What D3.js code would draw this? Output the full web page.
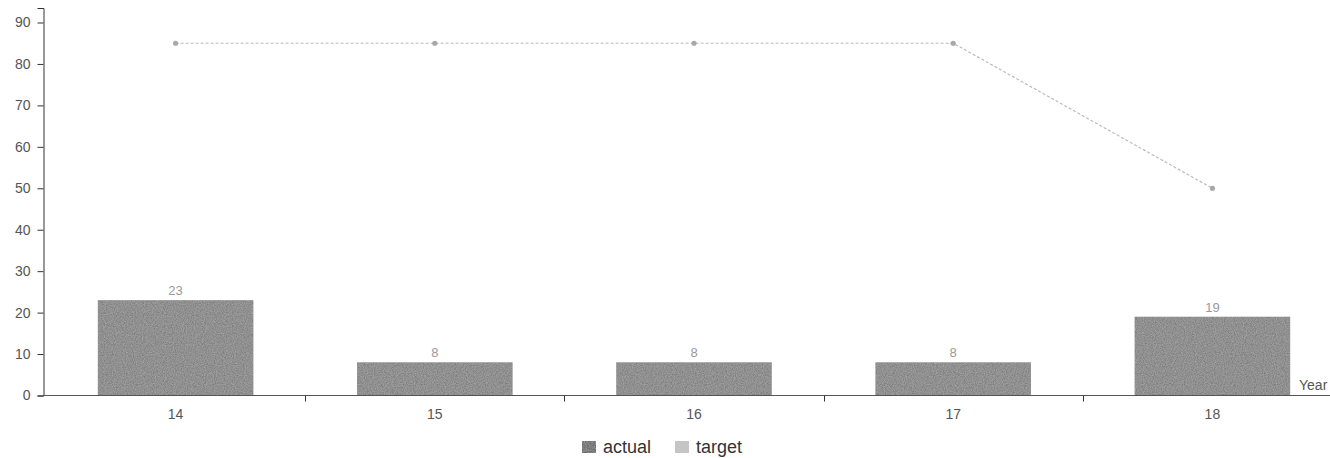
<!DOCTYPE html>
<html><head><meta charset="utf-8">
<script src="https://cdn.jsdelivr.net/npm/d3@7"></script>
<style>body{margin:0;background:#fff;overflow:hidden}svg{display:block}text{font-family:"Liberation Sans",Arial,sans-serif}</style>
</head><body>
<svg id="c" width="1330" height="458"></svg>
<script>
const categories = ["14","15","16","17","18"];
const actual = [23, 8, 8, 8, 19];
const target = [85, 85, 85, 85, 50];
const yTicks = [0,10,20,30,40,50,60,70,80,90];
const seriesNames = ["actual","target"];

const svg = d3.select("#c");
const defs = svg.append("defs");
const f = defs.append("filter").attr("id","grain").attr("x",0).attr("y",0).attr("width",1).attr("height",1);
f.append("feTurbulence").attr("type","fractalNoise").attr("baseFrequency",0.9).attr("numOctaves",2).attr("seed",3).attr("result","n");
f.append("feColorMatrix").attr("in","n").attr("type","matrix")
 .attr("values","0 0 0 0 0.62  0 0 0 0 0.62  0 0 0 0 0.62  0.6 0 0 0 -0.1").attr("result","g");
f.append("feComposite").attr("in","g").attr("in2","SourceGraphic").attr("operator","in").attr("result","gc");
f.append("feMerge").call(m=>{m.append("feMergeNode").attr("in","SourceGraphic");m.append("feMergeNode").attr("in","gc");});

const x = d3.scaleBand().domain(categories).range([46,1342]).padding(0);
const y = d3.scaleLinear().domain([0,93.5]).range([395.5,8]);
const bw = x.bandwidth()*0.6;

// bars
svg.append("g").selectAll("rect").data(actual).join("rect")
  .attr("x",(d,i)=>x(categories[i])+(x.bandwidth()-bw)/2)
  .attr("y",d=>y(d)).attr("width",bw).attr("height",d=>y(0)-y(d))
  .attr("fill","#7a7a7a").attr("filter","url(#grain)");

// bar labels
svg.append("g").selectAll("text").data(actual).join("text")
  .attr("x",(d,i)=>x(categories[i])+x.bandwidth()/2).attr("y",d=>y(d)-5)
  .attr("text-anchor","middle").attr("font-size",13).attr("fill","#9a9a9a").text(d=>d);

// target line
const line = d3.line().x((d,i)=>x(categories[i])+x.bandwidth()/2).y(d=>y(d));
svg.append("path").datum(target).attr("d",line).attr("fill","none")
  .attr("stroke","#bcbcbc").attr("stroke-width",1.2).attr("stroke-dasharray","3,2");
svg.append("g").selectAll("circle").data(target).join("circle")
  .attr("cx",(d,i)=>x(categories[i])+x.bandwidth()/2).attr("cy",d=>y(d)).attr("r",2.6)
  .attr("fill","#a8a8a8");

// y axis
const ya = svg.append("g").attr("transform","translate(43.5,0)")
  .call(d3.axisLeft(y).tickValues(yTicks).tickSize(6).tickPadding(7));
ya.selectAll("path,line").attr("stroke","#333");
ya.selectAll("text").attr("font-size",14).attr("fill","#555").attr("font-family","Liberation Sans, Arial, sans-serif");

// x axis
const xa = svg.append("g").attr("transform",`translate(0,${y(0)})`)
  .call(d3.axisBottom(x).tickSize(0).tickPadding(14));
xa.select(".domain").attr("stroke","#555").attr("d",`M43,0H1343`);
xa.selectAll("text").attr("font-size",14).attr("fill","#555").attr("font-family","Liberation Sans, Arial, sans-serif");
xa.selectAll("line.bt").data(categories.slice(1)).join("line").attr("class","bt")
  .attr("x1",d=>Math.round(x(d))+0.5).attr("x2",d=>Math.round(x(d))+0.5).attr("y1",0).attr("y2",6).attr("stroke","#333");
svg.append("text").attr("x",1299).attr("y",y(0)-6).attr("text-anchor","start")
  .attr("font-size",14).attr("fill","#555").text("Year");

// legend
const lg = svg.append("g").attr("transform","translate(582,447)");
const colors = ["#5e5e5e","#c2c2c2"];
const offs = [0, 93];
seriesNames.forEach((n,i)=>{
  const g = lg.append("g").attr("transform",`translate(${offs[i]},0)`);
  g.append("rect").attr("x",0).attr("y",-6).attr("width",14).attr("height",12).attr("fill",colors[i]).attr("filter","url(#grain)");
  g.append("text").attr("x",21).attr("y",6).attr("font-size",18).attr("fill","#333").text(n);
});
</script>
</body></html>
